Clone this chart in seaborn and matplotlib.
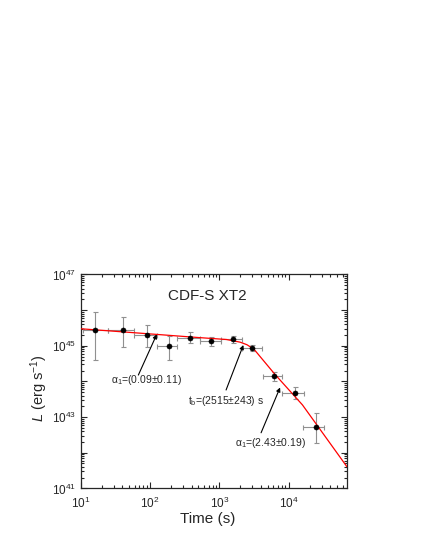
import matplotlib
matplotlib.use('Agg')
import matplotlib.pyplot as plt
import matplotlib.ticker as mticker
import numpy as np
import pandas as pd
import seaborn as sns

# data
time_s = [16.3, 41, 89, 186, 380, 760, 1550, 3000, 6200, 12300, 24600]
time_lo = [10.7, 25, 58, 126, 245, 525, 1070, 2090, 4270, 8130, 16200]
time_hi = [25, 58, 126, 245, 525, 1070, 2090, 4070, 7940, 16600, 32400]
lum = [2.7e45, 2.7e45, 2.0e45, 9.8e44, 1.66e45, 1.35e45, 1.5e45, 8.7e44, 1.4e44, 4.8e43, 5.4e42]
lum_lo = [4.0e44, 9.1e44, 9.1e44, 4.0e44, 1.17e45, 1.0e45, 1.2e45, 7.2e44, 1.05e44, 3.2e43, 1.9e42]
lum_hi = [8.9e45, 6.3e45, 3.9e45, 1.9e45, 2.45e45, 1.78e45, 1.86e45, 1.07e45, 1.86e44, 7.1e43, 1.29e43]

# fitted broken power law
fit_t = [10, 100, 500, 1260, 2000, 2500, 3160, 6300, 15800, 69000]
fit_L = [3.0e45, 2.15e45, 1.7e45, 1.5e45, 1.26e45, 1.07e45, 8.0e44, 1.6e44, 2.2e43, 4.1e41]

# annotation texts: label, text position, arrow tail, arrow head
notes = [r'$\alpha_1$=(0.09$\pm$0.11)', r'$t_b$=(2515$\pm$243) s', r'$\alpha_1$=(2.43$\pm$0.19)']
note_xy = [(89.6, 1.1e44), (1230, 2.8e43), (5370, 1.9e42)]
arrow_from = [(67.8, 1.51e44), (1250, 5.75e43), (4000, 3.63e42)]
arrow_to = [(125, 2.09e45), (2220, 1.05e45), (7520, 6.76e43)]

sns.set_style('ticks')
plt.rcParams['font.family'] = ['Liberation Sans', 'DejaVu Sans']
plt.rcParams['mathtext.fontset'] = 'custom'
plt.rcParams['mathtext.rm'] = 'Liberation Sans'
plt.rcParams['mathtext.it'] = 'Liberation Sans:italic'
plt.rcParams['mathtext.default'] = 'regular'

df = pd.DataFrame({'t': time_s, 'L': lum})
fit_df = pd.DataFrame({'t': fit_t, 'L': fit_L})

fig = plt.figure(figsize=(4.25, 5.5), dpi=100)
ax = fig.add_axes([0.19, 0.112, 0.626, 0.389])

xerr = [np.array(time_s) - np.array(time_lo), np.array(time_hi) - np.array(time_s)]
yerr = [np.array(lum) - np.array(lum_lo), np.array(lum_hi) - np.array(lum)]
ax.errorbar(time_s, lum, xerr=xerr, yerr=yerr, fmt='none', ecolor='#909090',
            elinewidth=0.8, capsize=1.8, capthick=0.8, zorder=2)
sns.lineplot(data=fit_df, x='t', y='L', color='red', linewidth=0.9, ax=ax,
             sort=False, estimator=None, zorder=3)
sns.scatterplot(data=df, x='t', y='L', color='black', s=14, edgecolor='black',
                linewidth=0.3, ax=ax, zorder=4)

ax.set_xscale('log')
ax.set_yscale('log')
ax.set_xlim(10, 69000)
ax.set_ylim(1e41, 1e47)

ax.xaxis.set_major_locator(mticker.LogLocator(base=10, numticks=10))
ax.xaxis.set_minor_locator(mticker.LogLocator(base=10, subs=np.arange(2, 10), numticks=20))
ax.yaxis.set_major_locator(mticker.LogLocator(base=10, numticks=10))
ax.yaxis.set_minor_locator(mticker.LogLocator(base=10, subs=np.arange(2, 10), numticks=20))

def ylab(v, pos):
    e = int(round(np.log10(v)))
    return r'$10^{%d}$' % e if e % 2 == 1 else ''

ax.yaxis.set_major_formatter(mticker.FuncFormatter(ylab))
ax.xaxis.set_major_formatter(mticker.FuncFormatter(lambda v, p: r'$10^{%d}$' % int(round(np.log10(v)))))

ax.tick_params(which='both', direction='in', top=True, right=True, labelsize=8.5, width=0.8)
ax.tick_params(which='major', length=4)
ax.tick_params(which='minor', length=2)
ax.tick_params(axis='x', which='major', pad=5)
for s in ax.spines.values():
    s.set_linewidth(0.9)

ax.set_xlabel('Time (s)', fontsize=11)
ax.set_ylabel(r'$\mathit{L}$ (erg s$^{-1}$)', fontsize=10.5)
ax.xaxis.set_label_coords(0.478, -0.11)
ax.yaxis.set_label_coords(-0.115, 0.471)

ax.text(0.474, 0.9, 'CDF-S XT2', transform=ax.transAxes, fontsize=11,
        ha='center', va='center')

for txt, pos, a0, a1 in zip(notes, note_xy, arrow_from, arrow_to):
    ax.text(pos[0], pos[1], txt, fontsize=7.5, ha='center', va='center')
    ax.annotate('', xy=a1, xytext=a0,
                arrowprops=dict(arrowstyle='-|>', color='black', lw=0.8,
                                mutation_scale=6, shrinkA=0, shrinkB=0))

fig.savefig('out.png', dpi=100)
